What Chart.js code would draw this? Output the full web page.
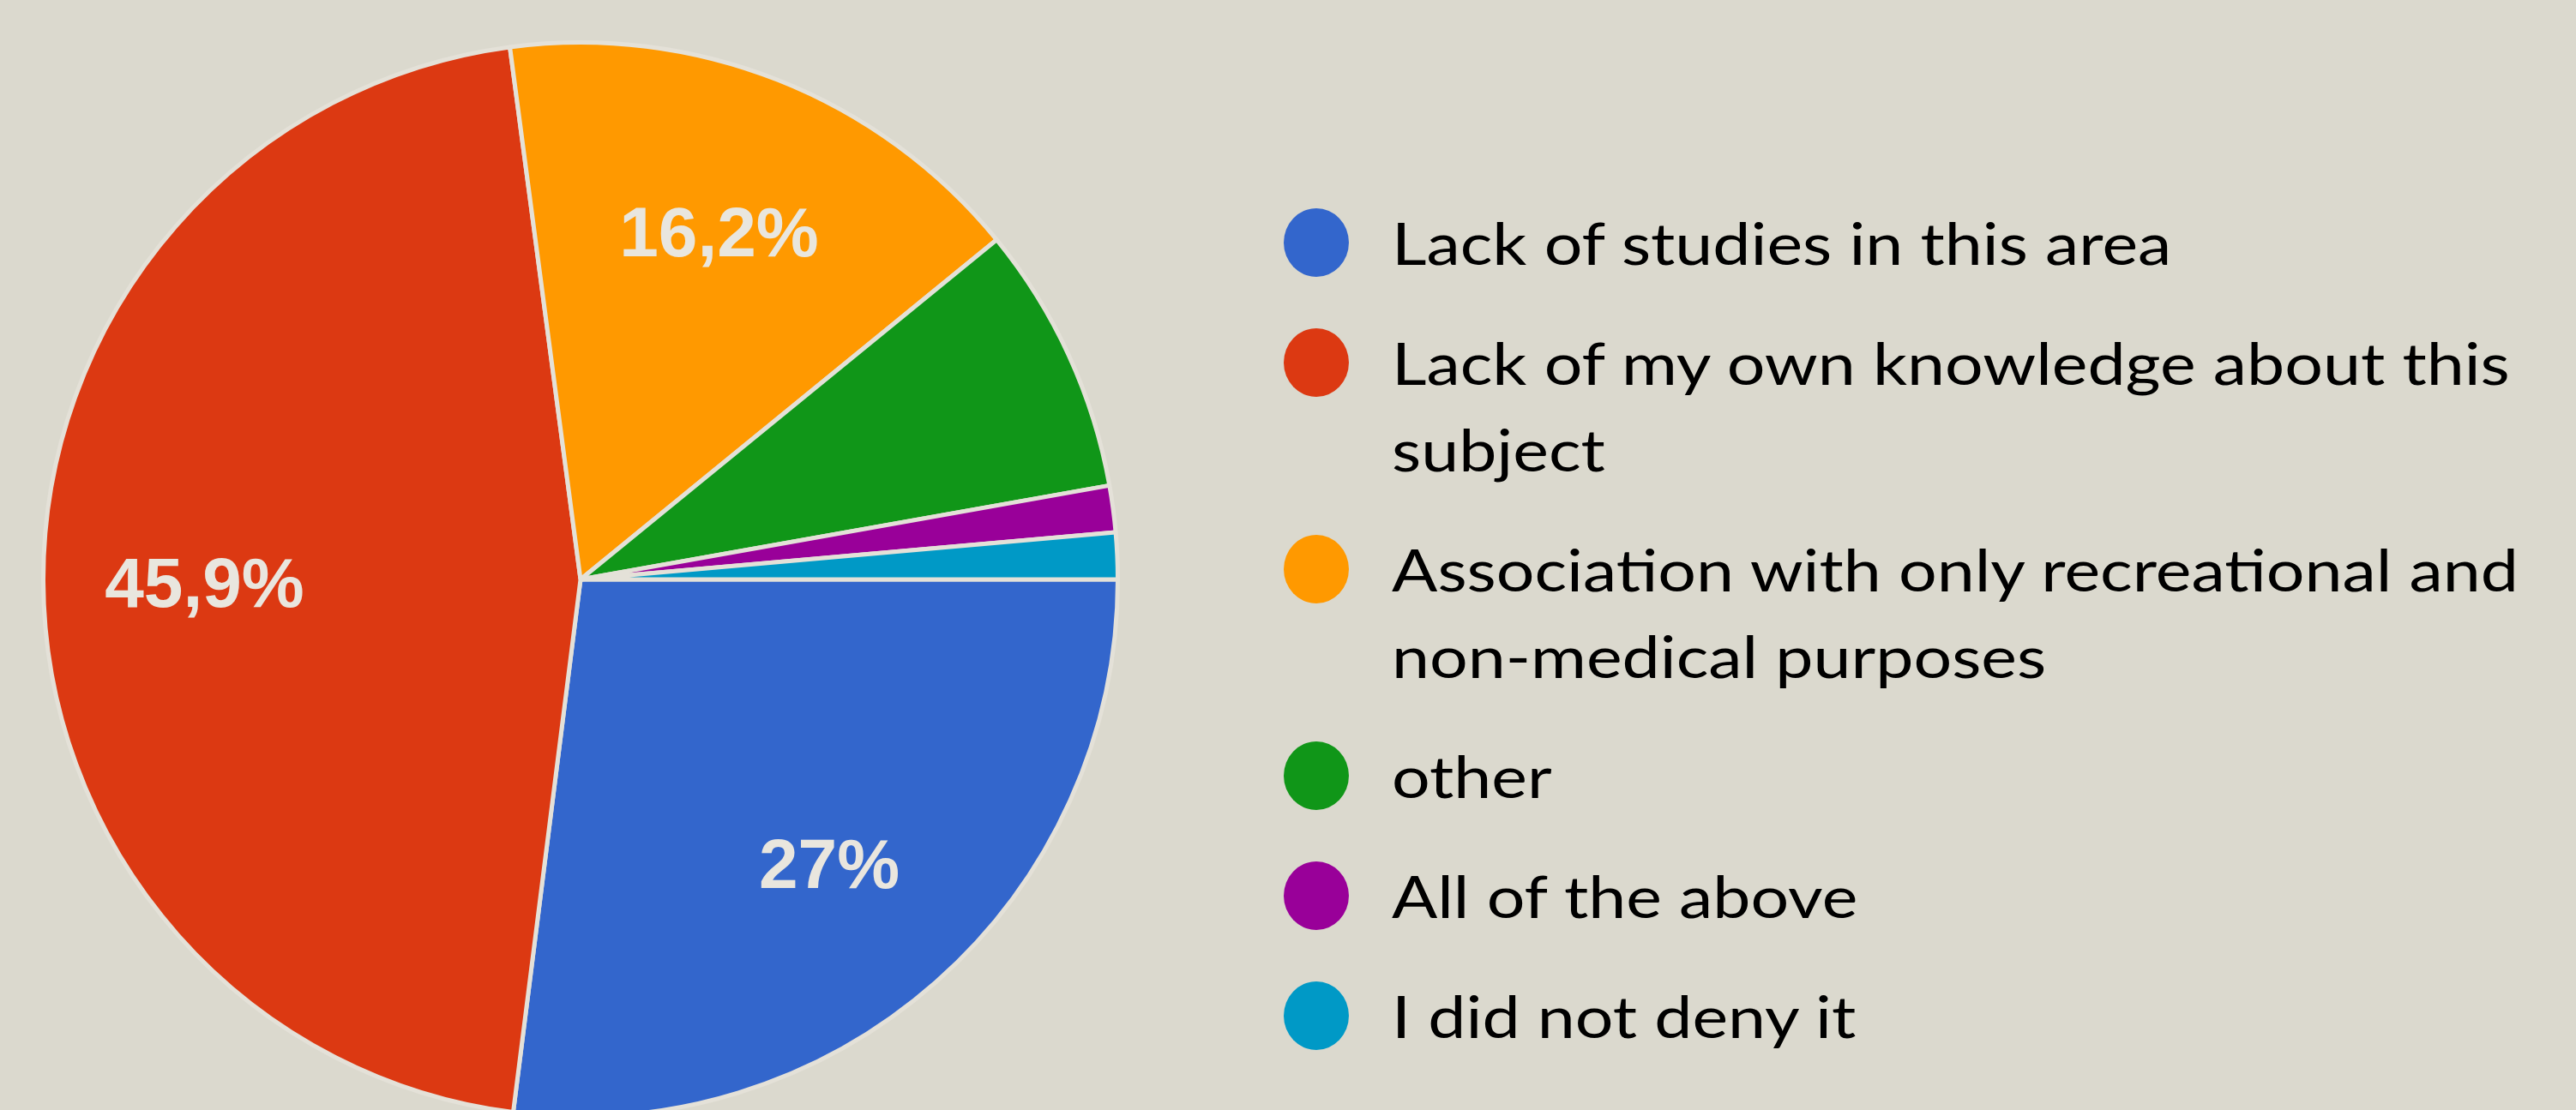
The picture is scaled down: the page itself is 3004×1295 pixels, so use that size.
<!DOCTYPE html>
<html>
<head>
<meta charset="utf-8">
<script src="https://cdn.jsdelivr.net/npm/chart.js@4.4.1/dist/chart.umd.min.js"></script>
<style>
  html, body { margin: 0; padding: 0; }
  body {
    width: 3004px; height: 1295px; overflow: hidden;
    background: #dbd9ce; position: relative;
  }
  #pieBox { position: absolute; left: 48px; top: 44px; width: 1258px; height: 1264px; }
  #legend {
    position: absolute; left: 1497px; top: 232px;
    font-family: "Lato", "Open Sans", sans-serif; font-size: 68px; color: #000;
  }
  .item { display: flex; align-items: flex-start; margin-bottom: 39px; }
  .dot { width: 76px; height: 80px; border-radius: 50%; flex: none; margin-top: 11px; margin-right: 50px; }
  .txt { line-height: 101px; white-space: nowrap; transform: scaleX(1.16); transform-origin: 0 50%; }
</style>
</head>
<body>
<div id="pieBox"><canvas id="pieChart"></canvas></div>
<div id="legend"></div>
<script>
const reasons = [
  ["Lack of studies in this area"],
  ["Lack of my own knowledge about this", "subject"],
  ["Association with only recreational and", "non-medical purposes"],
  ["other"],
  ["All of the above"],
  ["I did not deny it"],
];
const shares = [27, 45.9, 16.2, 8.1, 1.4, 1.4];
const colors = ["#3366cc", "#dc3912", "#ff9900", "#109618", "#990099", "#0099c6"];

// html legend, wrapped lines as in the slide
const legendEl = document.getElementById("legend");
reasons.forEach(function (lines, i) {
  const item = document.createElement("div");
  item.className = "item";
  item.innerHTML = '<span class="dot" style="background:' + colors[i] + '"></span>' +
    '<span class="txt">' + lines.join("<br>") + "</span>";
  legendEl.appendChild(item);
});

// percentage text inside the big slices
const pctLabels = {
  id: "pctLabels",
  afterDatasetsDraw(chart) {
    const ctx = chart.ctx;
    const meta = chart.getDatasetMeta(0);
    ctx.save();
    ctx.font = "bold 82px 'Liberation Sans', Arial, sans-serif";
    ctx.fillStyle = "#e9e6de";
    ctx.textAlign = "center";
    ctx.textBaseline = "middle";
    meta.data.forEach(function (arc, i) {
      if (shares[i] < 10) return;
      const p = arc.getProps(["x", "y", "startAngle", "endAngle", "outerRadius"], true);
      const mid = (p.startAngle + p.endAngle) / 2;
      const r = p.outerRadius * 0.7;
      ctx.fillText(String(shares[i]).replace(".", ",") + "%", p.x + Math.cos(mid) * r, p.y + Math.sin(mid) * r + 8);
    });
    ctx.restore();
  },
};

new Chart(document.getElementById("pieChart"), {
  type: "pie",
  data: {
    labels: reasons.map((l) => l.join(" ")),
    datasets: [
      {
        data: shares,
        backgroundColor: colors,
        borderColor: "#e4e1d8",
        borderWidth: 5,
      },
    ],
  },
  options: {
    responsive: true,
    maintainAspectRatio: false,
    animation: false,
    devicePixelRatio: 1,
    rotation: 90,
    layout: { padding: 0 },
    plugins: {
      legend: { display: false },
      tooltip: { enabled: false },
    },
  },
  plugins: [pctLabels],
});
</script>
</body>
</html>
